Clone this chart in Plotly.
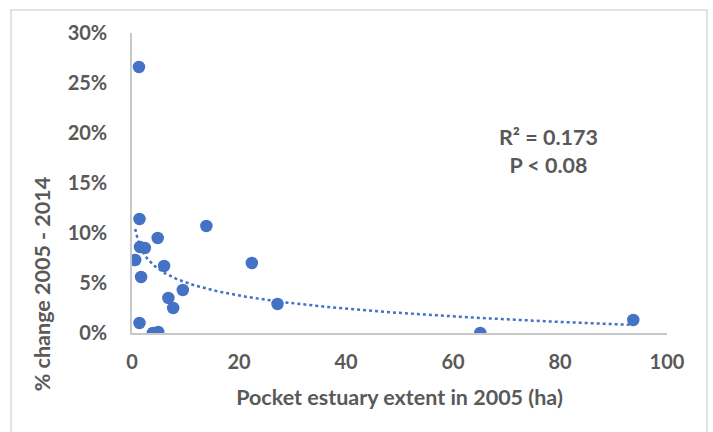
import numpy as np
import plotly.graph_objects as go

# Pocket estuary extent in 2005 (ha) and % change 2005-2014
extent_ha = [1.3, 1.4, 13.9, 4.8, 1.5, 2.4, 0.6, 6.0, 22.4, 1.7, 9.5, 6.8, 7.7,
             27.2, 1.4, 3.9, 4.9, 65.1, 93.7]
pct_change = [26.6, 11.4, 10.7, 9.5, 8.6, 8.5, 7.3, 6.7, 7.0, 5.6, 4.3, 3.5, 2.5,
              2.9, 1.0, 0.0, 0.1, 0.0, 1.3]

x_ticks = [0, 20, 40, 60, 80, 100]
y_ticks = [0, 5, 10, 15, 20, 25, 30]
y_tick_labels = [f"{v}%" for v in y_ticks]

BLUE = "#4472C4"
GREY_TXT = "#595959"
FONT = "Lato"
TICK_SIZE = 20
TITLE_SIZE = 21.5

# Logarithmic trendline: y = a + b*ln(x)
xs = np.array(extent_ha)
ys = np.array(pct_change)
b, a = np.polyfit(np.log(xs), ys, 1)
x_fit = np.linspace(xs.min(), xs.max(), 300)
y_fit = a + b * np.log(x_fit)

fig = go.Figure()
fig.add_trace(go.Scatter(
    x=x_fit, y=y_fit, mode="lines",
    line=dict(color=BLUE, width=2.5, dash="dot"),
    hoverinfo="skip", showlegend=False,
))
fig.add_trace(go.Scatter(
    x=extent_ha, y=pct_change, mode="markers",
    marker=dict(color=BLUE, size=12.5),
    showlegend=False,
))

tick_font = dict(size=TICK_SIZE, family=FONT, color=GREY_TXT, weight="bold")

fig.update_layout(
    width=713, height=432,
    margin=dict(l=132, r=46, t=33, b=99),
    paper_bgcolor="white", plot_bgcolor="white",
    font=dict(family=FONT, color=GREY_TXT, size=TICK_SIZE),
    xaxis=dict(
        range=[0, 100], tickvals=x_ticks, showgrid=False, zeroline=False,
        showline=True, linecolor="#c8c8c8", linewidth=1.5,
        ticks="", tickfont=tick_font, ticklabelstandoff=10,
        title=dict(text="<b>Pocket estuary extent in 2005 (ha)</b>",
                   font=dict(size=TITLE_SIZE, family=FONT, color=GREY_TXT),
                   standoff=18),
    ),
    yaxis=dict(
        range=[0, 30], tickvals=y_ticks, ticktext=y_tick_labels, showgrid=False,
        zeroline=False, showline=True, linecolor="#c8c8c8", linewidth=1.5,
        ticks="", tickfont=tick_font, ticklabelstandoff=19,
    ),
    shapes=[dict(
        type="rect", xref="paper", yref="paper",
        x0=-0.226, x1=1.0748, y0=-0.4, y1=1.0767,
        line=dict(color="#d9d9d9", width=1.5), fillcolor="rgba(0,0,0,0)",
    )],
    annotations=[
        dict(text="<b>R² = 0.173<br>P < 0.08</b>", xref="paper", yref="paper",
             x=0.778, y=0.607, xanchor="center", yanchor="middle",
             showarrow=False, align="center",
             font=dict(size=TITLE_SIZE, family=FONT, color=GREY_TXT)),
        dict(text="<b>% change 2005 - 2014</b>", xref="paper", yref="paper",
             x=-0.168, y=0.163, xanchor="center", yanchor="middle",
             textangle=-90, showarrow=False,
             font=dict(size=TITLE_SIZE, family=FONT, color=GREY_TXT)),
    ],
)

fig.write_html("out.html")
